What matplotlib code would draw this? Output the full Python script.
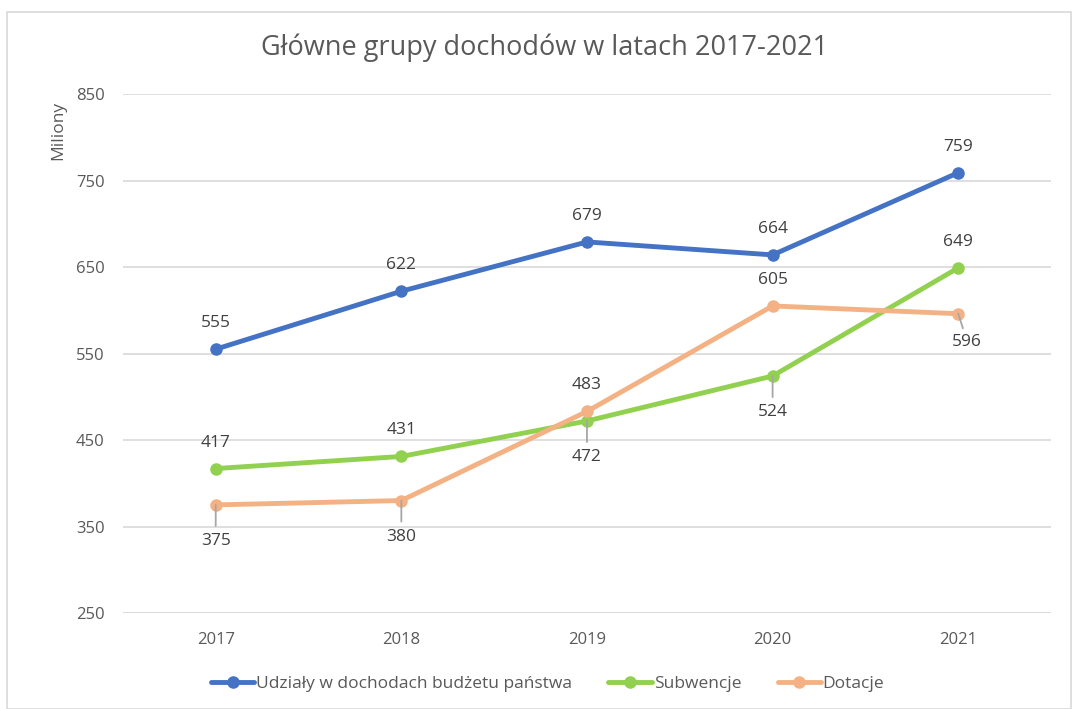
import matplotlib.pyplot as plt
from matplotlib.patches import Rectangle

years = ['2017', '2018', '2019', '2020', '2021']
udzialy = [555, 622, 679, 664, 759]
subwencje = [417, 431, 472, 524, 649]
dotacje = [375, 380, 483, 605, 596]
y_ticks = [250, 350, 450, 550, 650, 750, 850]

# label placement per point: 'up', 'down' (with leader) or 'downright'
pos_udz = ['up'] * 5
pos_sub = ['up', 'up', 'down', 'down', 'up']
pos_dot = ['down', 'down', 'up', 'up', 'downright']

plt.rcParams['font.family'] = ['Open Sans', 'DejaVu Sans']
txt = '#404040'
grid = '#D9D9D9'

fig = plt.figure(figsize=(10.78, 7.09), dpi=100)
ax = fig.add_axes([0.114, 0.1354, 0.861, 0.732])
fig.patches.append(Rectangle((7/1078, 0.0), 1 - 14/1078, 1 - 12/709, transform=fig.transFigure,
                             fill=False, edgecolor='#D9D9D9', lw=1.2))

x = list(range(len(years)))
series = [(udzialy, '#4472C4', 'Udziały w dochodach budżetu państwa', pos_udz),
          (subwencje, '#92D050', 'Subwencje', pos_sub),
          (dotacje, '#F4B183', 'Dotacje', pos_dot)]

for vals, col, name, pos in series:
    ax.plot(x, vals, color=col, lw=3.5, marker='o', ms=8, label=name, zorder=3,
            solid_capstyle='round')
    for i, v in enumerate(vals):
        p = pos[i]
        if p == 'up':
            ax.annotate(str(v), (i, v), xytext=(0, 26), textcoords='offset pixels',
                        ha='center', va='center', fontsize=12.5, color=txt)
        elif p == 'down':
            ax.annotate(str(v), (i, v), xytext=(0, -36), textcoords='offset pixels',
                        ha='center', va='center', fontsize=12.5, color=txt,
                        arrowprops=dict(arrowstyle='-', color='#A6A6A6', lw=1.3,
                                        shrinkA=3, shrinkB=0))
        else:
            ax.annotate(str(v), (i, v), xytext=(9, -28), textcoords='offset pixels',
                        ha='center', va='center', fontsize=12.5, color=txt,
                        arrowprops=dict(arrowstyle='-', color='#A6A6A6', lw=1.3,
                                        shrinkA=2, shrinkB=0))

ax.set_xlim(-0.5, len(years) - 0.5)
ax.set_ylim(250, 850)
ax.set_yticks(y_ticks)
ax.set_xticks(x)
ax.set_xticklabels(years)
ax.tick_params(axis='both', length=0, labelsize=12, colors='#595959')
ax.tick_params(axis='x', pad=14)
ax.tick_params(axis='y', pad=13)
ax.grid(axis='y', color=grid, lw=1.2)
ax.set_axisbelow(True)
for s in ax.spines.values():
    s.set_visible(False)
ax.axhline(250, color=grid, lw=1.2, zorder=1)

fig.text(0.505, 1 - 48/709, 'Główne grupy dochodów w latach 2017-2021', ha='center', va='center',
         fontsize=19.5, color='#595959')
fig.text(58/1078, 1 - 130/709, 'Miliony', rotation=90, ha='center', va='center',
         fontsize=12.5, color='#595959')

fig.legend(loc='center', bbox_to_anchor=(0.508, 1 - 684/709), ncol=3, frameon=False,
           fontsize=12.5, handlelength=2.5, handletextpad=0.1, columnspacing=2.1,
           labelcolor='#595959')

fig.savefig('out.png', dpi=100)
